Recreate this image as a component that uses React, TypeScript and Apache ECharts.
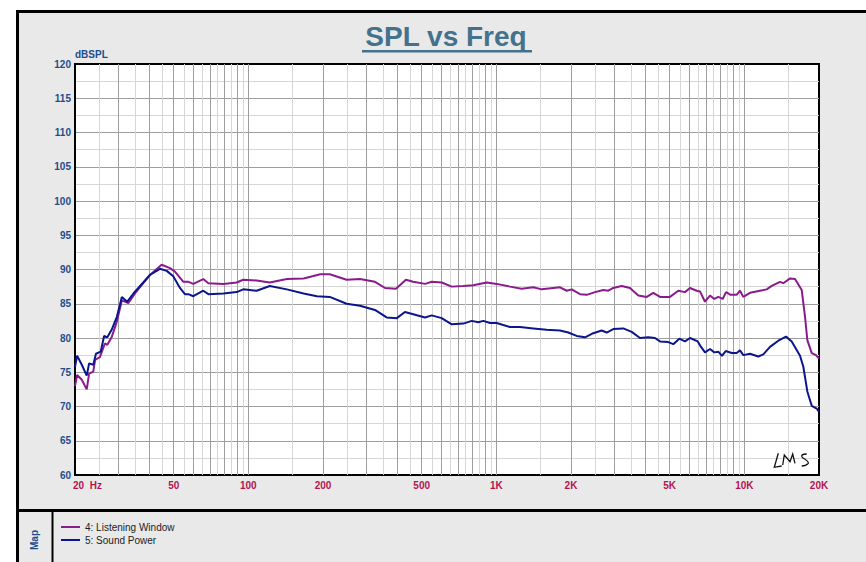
import React, { useEffect, useRef } from 'react';
import * as echarts from 'echarts';

// ---- data ----
const lwFreq = [20, 20.4, 21.3, 22.3, 22.8, 23.7, 24.1, 25.2, 26.4, 27.0, 28.1, 29.5, 30.9, 32.8, 34.9, 40.1, 44.7, 48.3, 50.6, 54.7, 57.3, 60.0, 65.8, 69.0, 79.3, 89.7, 95.4, 108, 122, 143, 167, 195, 213, 249, 282, 324, 356, 394, 432, 462, 516, 549, 602, 661, 736, 807, 914, 1003, 1135, 1265, 1409, 1524, 1697, 1806, 1922, 2013, 2174, 2314, 2500, 2700, 2828, 2962, 3202, 3458, 3736, 4040, 4294, 4570, 5014, 5416, 5764, 6038, 6426, 6626, 6940, 7270, 7566, 7852, 8180, 8434, 8812, 9314, 9606, 9904, 10540, 11564, 12308, 12894, 13926, 14362, 15282, 16008, 17036, 17566, 17946, 18696, 19450, 20000];
const lwSpl = [73.0, 74.6, 73.9, 72.5, 74.8, 75.1, 76.8, 77.2, 79.2, 79.0, 80.1, 82.4, 85.5, 85.1, 86.5, 89.2, 90.7, 90.2, 89.7, 88.2, 88.2, 87.9, 88.6, 88.0, 87.9, 88.1, 88.5, 88.4, 88.1, 88.6, 88.7, 89.3, 89.3, 88.5, 88.6, 88.2, 87.3, 87.2, 88.5, 88.2, 87.9, 88.2, 88.1, 87.5, 87.6, 87.7, 88.1, 87.9, 87.5, 87.2, 87.4, 87.1, 87.3, 87.4, 86.9, 87.1, 86.4, 86.3, 86.7, 87.0, 86.9, 87.3, 87.6, 87.3, 86.2, 86.0, 86.6, 86.0, 86.0, 86.9, 86.7, 87.3, 86.9, 86.8, 85.3, 86.2, 85.7, 86.0, 85.7, 86.7, 86.3, 86.3, 86.9, 86.0, 86.6, 86.9, 87.1, 87.6, 88.2, 88.0, 88.7, 88.6, 87.0, 83.1, 79.7, 77.8, 77.5, 77.0];

const spFreq = [20, 20.4, 21.3, 22.3, 22.8, 23.7, 24.3, 25.4, 26.2, 27.0, 28.1, 29.5, 30.9, 32.5, 34.4, 40.1, 44.0, 46.9, 49.8, 53.0, 55.5, 57.3, 60.0, 65.8, 69.0, 79.3, 89.7, 95.4, 108, 122, 143, 167, 189, 213, 249, 282, 324, 361, 397, 428, 470, 516, 549, 602, 661, 736, 796, 846, 886, 943, 1003, 1135, 1246, 1409, 1596, 1806, 1950, 2108, 2278, 2460, 2660, 2786, 2962, 3250, 3514, 3796, 4100, 4364, 4570, 4936, 5170, 5466, 5764, 6038, 6486, 6688, 6940, 7270, 7566, 7852, 8126, 8410, 8892, 9314, 9606, 9904, 10540, 11382, 11926, 12690, 13708, 14724, 15524, 16770, 17292, 17946, 18696, 19580, 20000];
const spSpl = [75.8, 77.4, 76.1, 74.5, 76.3, 76.1, 77.7, 78.0, 80.3, 80.1, 81.2, 83.1, 86.0, 85.3, 86.5, 89.2, 90.1, 89.8, 89.0, 87.3, 86.4, 86.4, 86.1, 86.9, 86.4, 86.5, 86.7, 87.1, 86.9, 87.6, 87.1, 86.5, 86.1, 86.0, 85.0, 84.7, 84.1, 83.0, 82.9, 83.8, 83.4, 83.0, 83.3, 82.9, 82.0, 82.1, 82.5, 82.3, 82.5, 82.2, 82.2, 81.6, 81.6, 81.4, 81.2, 81.1, 80.8, 80.3, 80.1, 80.7, 81.1, 80.8, 81.3, 81.4, 80.9, 80.0, 80.1, 80.0, 79.5, 79.4, 79.1, 79.9, 79.5, 80.0, 79.5, 78.7, 77.9, 78.4, 77.9, 78.0, 77.4, 78.1, 77.8, 77.8, 78.2, 77.5, 77.7, 77.3, 77.6, 78.7, 79.6, 80.2, 79.5, 77.4, 75.8, 72.2, 70.1, 69.7, 69.2];

const seriesNames = ['4: Listening Window', '5: Sound Power'];
const xTickValues = [20, 50, 100, 200, 500, 1000, 2000, 5000, 10000, 20000];
const xTickLabels = ['20  Hz', '50', '100', '200', '500', '1K', '2K', '5K', '10K', '20K'];
const majorFreqGrid = [30, 40, 50, 60, 70, 80, 90, 100, 200, 300, 400, 500, 600, 700, 800, 900, 1000, 2000, 3000, 4000, 5000, 6000, 7000, 8000, 9000, 10000];
const minorFreqGrid = [25, 35, 45, 55, 65, 75, 85, 95, 150, 250, 350, 450, 550, 650, 750, 850, 950, 1500, 2500, 3500, 4500, 5500, 6500, 7500, 8500, 9500, 15000];

const FONT = '"Liberation Sans", Arial, Helvetica, sans-serif';
const BLUE_TXT = '#1d4d8c';
const RED_TXT = '#b5144f';
const LW_COLOR = '#8b1a8d';
const SP_COLOR = '#0c168c';
const MAJOR_GRID = '#9e9e9e';
const MINOR_GRID = '#d6d6d6';

const LMS_PATH = 'M4.3 1.3 L0.3 15.3 L7.7 14 M8.7 13 L10.3 3 L16 9.7 L18.7 2 L21 11.3 M32.7 2 Q26 2 28.3 5.5 Q35 9.5 34.3 11.3 Q32 14 27.7 14';
echarts.graphic.registerShape('lmslogo', echarts.graphic.extendPath(LMS_PATH, {}));

function zip(xs: number[], ys: number[]) {
  return xs.map((x, i) => [x, ys[i]]);
}

export default function App() {
  const ref = useRef<HTMLDivElement>(null);
  useEffect(() => {
    if (!ref.current) return;
    const chart = echarts.init(ref.current, undefined, { renderer: 'svg' });
    const option: any = {
      animation: false,
      backgroundColor: 'transparent',
      textStyle: { fontFamily: FONT },
      grid: {
        left: 75, top: 64, width: 744, height: 411,
        show: true, backgroundColor: '#ffffff', borderColor: '#000', borderWidth: 2,
        containLabel: false,
      },
      legend: {
        orient: 'vertical', left: 61, top: 522, padding: 0, itemWidth: 19, itemHeight: 2, itemGap: 3,
        icon: 'rect', data: seriesNames,
        textStyle: { fontSize: 10, color: '#222', fontFamily: FONT, lineHeight: 10 },
      },
      xAxis: {
        type: 'log', logBase: 10, min: 20, max: 20000,
        axisLine: { show: true, onZero: false, lineStyle: { color: '#000', width: 2 } },
        axisTick: { show: false, customValues: xTickValues },
        splitLine: { show: false },
        minorSplitLine: { show: false },
        axisLabel: {
          customValues: xTickValues,
          margin: 5,
          color: RED_TXT, fontWeight: 'bold', fontSize: 10, fontFamily: FONT,
          formatter: (v: number) => {
            let best = 0;
            xTickValues.forEach((t, i) => {
              if (Math.abs(Math.log10(t) - Math.log10(v)) < Math.abs(Math.log10(xTickValues[best]) - Math.log10(v))) best = i;
            });
            return best === 0 ? '{first|' + xTickLabels[0] + '}' : xTickLabels[best];
          },
          rich: {
            first: { padding: [0, 0, 0, 25], color: RED_TXT, fontWeight: 'bold', fontSize: 10, fontFamily: FONT },
          },
        },
      },
      yAxis: {
        type: 'value', min: 60, max: 120, interval: 5,
        name: 'dBSPL', nameLocation: 'end', nameGap: 4,
        nameTextStyle: { align: 'left', verticalAlign: 'bottom', color: BLUE_TXT, fontWeight: 'bold', fontSize: 10, fontFamily: FONT },
        axisLine: { show: true, lineStyle: { color: '#000', width: 2 } },
        axisTick: { show: false },
        axisLabel: { color: BLUE_TXT, fontWeight: 'bold', fontSize: 10, margin: 4, fontFamily: FONT },
        splitLine: { show: true, showMinLine: false, showMaxLine: false, lineStyle: { color: MAJOR_GRID, width: 1 } },
        minorTick: { show: false, splitNumber: 2 },
        minorSplitLine: { show: true, lineStyle: { color: MINOR_GRID, width: 1 } },
      },
      series: [
        {
          type: 'line', name: 'freqgrid', data: [], silent: true, z: 1,
          markLine: {
            silent: true, z: 1, symbol: ['none', 'none'], label: { show: false },
            emphasis: { disabled: true },
            data: [
              ...minorFreqGrid.map((v) => ({ xAxis: v, lineStyle: { color: MINOR_GRID, width: 1, type: 'solid' } })),
              ...majorFreqGrid.map((v) => ({ xAxis: v, lineStyle: { color: MAJOR_GRID, width: 1, type: 'solid' } })),
            ],
          },
        },
        {
          type: 'line', name: seriesNames[0], data: zip(lwFreq, lwSpl), showSymbol: false, symbol: 'none',
          color: LW_COLOR, lineStyle: { color: LW_COLOR, width: 2 }, z: 3,
        },
        {
          type: 'line', name: seriesNames[1], data: zip(spFreq, spSpl), showSymbol: false, symbol: 'none',
          color: SP_COLOR, lineStyle: { color: SP_COLOR, width: 2 }, z: 4,
        },
      ],
      graphic: [
        { type: 'rect', z: -10, shape: { x: 16, y: 10, width: 850, height: 552 }, style: { fill: '#e9e9e9' } },
        { type: 'rect', z: 10, shape: { x: 16, y: 10, width: 850, height: 3 }, style: { fill: '#000' } },
        { type: 'rect', z: 10, shape: { x: 16, y: 10, width: 3, height: 552 }, style: { fill: '#000' } },
        { type: 'rect', z: 10, shape: { x: 16, y: 509, width: 850, height: 3 }, style: { fill: '#000' } },
        { type: 'rect', z: 10, shape: { x: 51.5, y: 512, width: 2, height: 50 }, style: { fill: '#000' } },
        {
          type: 'text', z: 10, x: 446, y: 36,
          style: { text: 'SPL vs Freq', align: 'center', verticalAlign: 'middle', fill: '#44718c', font: 'bold 28px ' + FONT },
        },
        { type: 'rect', z: 10, shape: { x: 362, y: 50, width: 170, height: 2.5 }, style: { fill: '#44718c' } },
        {
          type: 'text', z: 10, x: 34, y: 540, rotation: Math.PI / 2,
          style: { text: 'Map', align: 'center', verticalAlign: 'middle', fill: BLUE_TXT, font: 'bold 10px ' + FONT },
        },
        {
          type: 'lmslogo', z: 10, x: 774, y: 452,
          style: { fill: 'none', stroke: '#111', lineWidth: 1.3 },
        },
      ],
    };
    chart.setOption(option);
    return () => chart.dispose();
  }, []);
  return (
    <div style={{ position: 'absolute', left: 0, top: 0, width: 866, height: 562, background: '#fff' }}>
      <div ref={ref} style={{ width: 866, height: 562 }} />
    </div>
  );
}
